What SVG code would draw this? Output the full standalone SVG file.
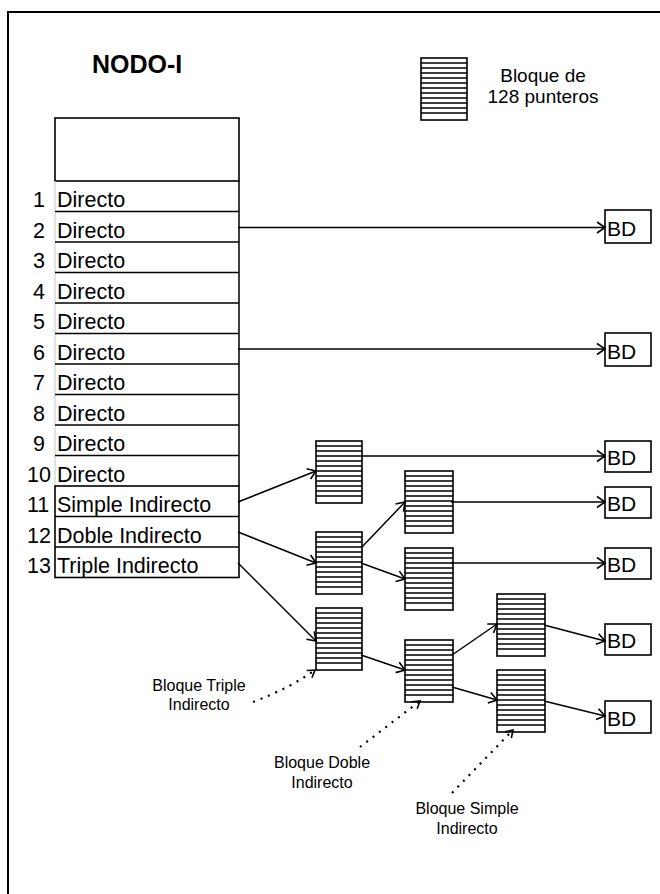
<svg xmlns="http://www.w3.org/2000/svg" width="660" height="894" viewBox="0 0 660 894">
<style>
  text { font-family: "Liberation Sans", Arial, sans-serif; fill: #000; }
  .title { font-size: 25px; font-weight: bold; }
  .row { font-size: 21.5px; }
  .bd { font-size: 21px; }
  .leg { font-size: 19px; text-anchor: middle; }
  .note { font-size: 16px; text-anchor: middle; }
  .box { fill: #fff; stroke: #000; stroke-width: 1.6; }
  .ln { fill: none; stroke: #000; stroke-width: 1.5; }
  .thin { fill: none; stroke: #000; stroke-width: 1.4; }
  .conn { fill: none; stroke: #000; stroke-width: 1.5; marker-end: url(#arr); }
  .dot { fill: none; stroke: #000; stroke-width: 2.2; stroke-dasharray: 2 6; marker-end: url(#arr2); }
</style>
<defs>
  <marker id="arr" markerUnits="userSpaceOnUse" markerWidth="12" markerHeight="14" viewBox="0 0 12 14" refX="10" refY="7" orient="auto">
    <path d="M2,1.5 L10,7 L2,12.5" fill="none" stroke="#000" stroke-width="1.6"/>
  </marker>
  <marker id="arr2" markerUnits="userSpaceOnUse" markerWidth="12" markerHeight="14" viewBox="0 0 12 14" refX="10" refY="7" orient="auto">
    <path d="M3,2.5 L10,7 L3,11.5" fill="none" stroke="#000" stroke-width="1.6"/>
  </marker>
  <g id="stkA">
    <rect class="box" x="0" y="0" width="46" height="62"/>
    <path class="thin" d="M0 5H46M0 10H46M0 15H46M0 20H46M0 25H46M0 30H46M0 35H46M0 40H46M0 45H46M0 50H46M0 55H46"/>
  </g>
  <g id="stkB">
    <rect class="box" x="0" y="0" width="48" height="62"/>
    <path class="thin" d="M0 5H48M0 10H48M0 15H48M0 20H48M0 25H48M0 30H48M0 35H48M0 40H48M0 45H48M0 50H48M0 55H48"/>
  </g>
</defs>
<rect width="660" height="894" fill="#fff"/>
<rect id="frame" x="8" y="12" width="700" height="920" fill="none" stroke="#000" stroke-width="2"/>

<g id="title"><text class="title" x="92" y="73">NODO-I</text></g>

<g id="legend">
  <use href="#stkA" x="421" y="58"/>
  <text class="leg" x="543" y="82">Bloque de</text>
  <text class="leg" x="543" y="103">128 punteros</text>
</g>

<g id="nodo-i">
  <rect class="box" x="55" y="118" width="184" height="63"/>
  <path d="M55 181V486" stroke="#c8c8c8" stroke-width="1" fill="none"/>
  <rect class="box" x="55" y="486" width="184" height="91.5"/>
  <path class="ln" d="M239 181V486M55 211.5H239M55 242H239M55 272.5H239M55 303H239M55 333.5H239M55 364H239M55 394.5H239M55 425H239M55 455.5H239M55 516.5H239M55 547H239"/>
  <g class="row">
    <text x="33" y="207">1</text><text x="57" y="207">Directo</text>
    <text x="33" y="237.5">2</text><text x="57" y="237.5">Directo</text>
    <text x="33" y="268">3</text><text x="57" y="268">Directo</text>
    <text x="33" y="298.5">4</text><text x="57" y="298.5">Directo</text>
    <text x="33" y="329">5</text><text x="57" y="329">Directo</text>
    <text x="33" y="359.5">6</text><text x="57" y="359.5">Directo</text>
    <text x="33" y="390">7</text><text x="57" y="390">Directo</text>
    <text x="33" y="420.5">8</text><text x="57" y="420.5">Directo</text>
    <text x="33" y="451">9</text><text x="57" y="451">Directo</text>
    <text x="27" y="481.5">10</text><text x="57" y="481.5">Directo</text>
    <text x="27" y="512">11</text><text x="57" y="512">Simple Indirecto</text>
    <text x="27" y="542.5">12</text><text x="57" y="542.5">Doble Indirecto</text>
    <text x="27" y="573">13</text><text x="57" y="573">Triple Indirecto</text>
  </g>
</g>

<g id="blk-simple"><use href="#stkA" x="316" y="441"/></g>
<g id="blk-doble"><use href="#stkA" x="316" y="532"/></g>
<g id="blk-triple"><use href="#stkA" x="316" y="608"/></g>
<g id="blk-doble-1"><use href="#stkB" x="405" y="471"/></g>
<g id="blk-doble-2"><use href="#stkB" x="405" y="548"/></g>
<g id="blk-triple-2"><use href="#stkB" x="405" y="640"/></g>
<g id="blk-triple-3a"><use href="#stkB" x="497" y="594"/></g>
<g id="blk-triple-3b"><use href="#stkB" x="497" y="670"/></g>

<g id="bd1"><rect class="box" x="605" y="210" width="46" height="33"/><text class="bd" x="607" y="236">BD</text></g>
<g id="bd2"><rect class="box" x="605" y="333" width="46" height="33"/><text class="bd" x="607" y="359">BD</text></g>
<g id="bd3"><rect class="box" x="605" y="441" width="46" height="31"/><text class="bd" x="607" y="465">BD</text></g>
<g id="bd4"><rect class="box" x="605" y="487" width="46" height="31"/><text class="bd" x="607" y="511">BD</text></g>
<g id="bd5"><rect class="box" x="605" y="548" width="46" height="31"/><text class="bd" x="607" y="572">BD</text></g>
<g id="bd6"><rect class="box" x="605" y="624" width="46" height="31"/><text class="bd" x="607" y="648">BD</text></g>
<g id="bd7"><rect class="box" x="605" y="701" width="46" height="32"/><text class="bd" x="607" y="726">BD</text></g>

<g id="notes">
  <text class="note" x="199" y="691">Bloque Triple</text>
  <text class="note" x="199" y="710">Indirecto</text>
  <text class="note" x="322" y="768">Bloque Doble</text>
  <text class="note" x="322" y="788">Indirecto</text>
  <text class="note" x="467" y="814">Bloque Simple</text>
  <text class="note" x="467" y="834">Indirecto</text>
</g>

<g id="connectors">
  <path class="conn" d="M238 227.5H605"/>
  <path class="conn" d="M238 349H605"/>
  <path class="conn" d="M361 456H605"/>
  <path class="conn" d="M451 502H605"/>
  <path class="conn" d="M451 563H605"/>
  <path class="conn" d="M238 502L316 471"/>
  <path class="conn" d="M238 532L316 563"/>
  <path class="conn" d="M238 563L316 641"/>
  <path class="conn" d="M361 548L405 502"/>
  <path class="conn" d="M361 563L405 579"/>
  <path class="conn" d="M361 655L405 670"/>
  <path class="conn" d="M452 655L497 624"/>
  <path class="conn" d="M452 687L497 700"/>
  <path class="conn" d="M544 625L605 641"/>
  <path class="conn" d="M544 701L605 716"/>
  <path class="dot" d="M253 702Q290 688 315 670"/>
  <path class="dot" d="M360 747L420 701"/>
  <path class="dot" d="M452 793L513 730"/>
</g>
</svg>
